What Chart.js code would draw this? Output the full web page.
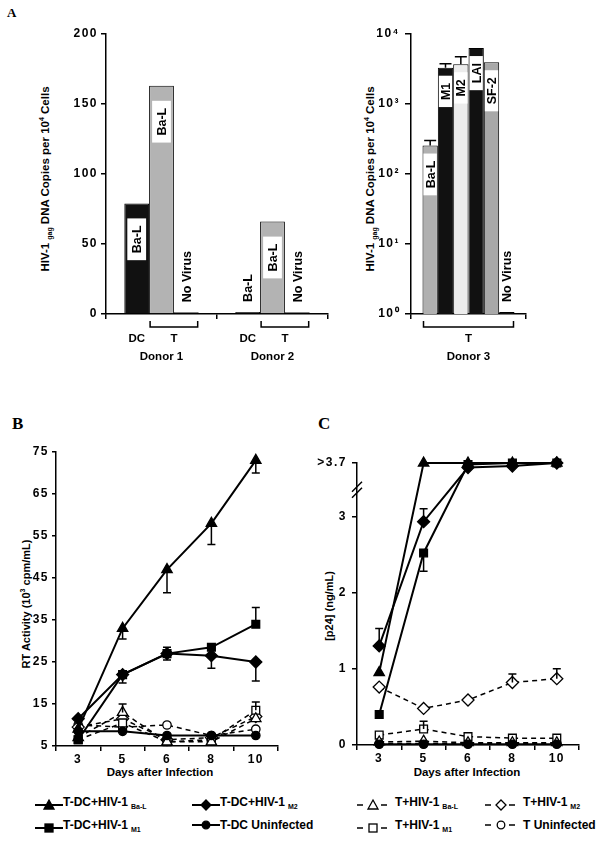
<!DOCTYPE html>
<html>
<head>
<meta charset="utf-8">
<script src="https://cdn.jsdelivr.net/npm/chart.js@4.4.0/dist/chart.umd.min.js"></script>
<style>
  body { margin: 0; background: #fff; width: 603px; height: 848px; position: relative; overflow: hidden;
         font-family: 'Liberation Sans', Arial, sans-serif; font-weight: bold; color: #000; }
  canvas { position: absolute; }
  .panel { position: absolute; font-family: 'Liberation Serif', 'Times New Roman', serif; font-weight: bold; line-height: 1; }
  .ytitle { position: absolute; white-space: nowrap; font-size: 11px; line-height: 1;
            transform: translate(-50%, -50%) rotate(-90deg); }
  .big { font-size: 11.5px; }
  .xtitle { position: absolute; white-space: nowrap; font-size: 11.5px; line-height: 1; transform: translate(-50%, -50%); }
  .sub { font-size: 7px; vertical-align: -3px; margin-left: 3px; }
  .sup { font-size: 7px; vertical-align: 5px; }
  .leg { position: absolute; white-space: nowrap; font-size: 12px; line-height: 14px; display: flex; align-items: center; }
  .leg svg { display: block; }
</style>
</head>
<body>
<div class="panel" style="left:7px; top:6px; font-size:13px;">A</div>
<div class="panel" style="left:12px; top:415px; font-size:17px;">B</div>
<div class="panel" style="left:318px; top:415px; font-size:17px;">C</div>

<div class="ytitle big" style="left:45px; top:179px;">HIV-1<span class="sub">gag</span> DNA Copies per 10<span class="sup">4</span> Cells</div>
<div class="ytitle big" style="left:370px; top:179px;">HIV-1<span class="sub">gag</span> DNA Copies per 10<span class="sup">4</span> Cells</div>
<div class="ytitle" style="left:25px; top:604px;">RT Activity (10<span class="sup">3</span> cpm/mL)</div>
<div class="ytitle" style="left:329px; top:606px;">[p24] (ng/mL)</div>
<div class="xtitle" style="left:160px; top:773px;">Days after Infection</div>
<div class="xtitle" style="left:467px; top:773px;">Days after Infection</div>

<canvas id="donors12" width="335" height="350" style="left:0; top:20px;"></canvas>
<canvas id="donor3" width="268" height="350" style="left:335px; top:20px;"></canvas>
<canvas id="rtChart" width="300" height="360" style="left:0; top:430px;"></canvas>
<canvas id="p24Chart" width="303" height="360" style="left:300px; top:430px;"></canvas>
<div id="legend"></div>

<script>
// ---- panel A, donors 1 and 2 (linear) ----
const donorsA = ['Donor 1', 'Donor 2'];
const dcBaL = [79, 1.5];
const tBaL = [163, 66];
const tNoVirus = [1.3, 1.3];

// ---- panel A, donor 3 (log) ----
const strains = ['Ba-L', 'M1', 'M2', 'LAI', 'SF-2', 'No Virus'];
const donor3Copies = [255, 3300, 3700, 6300, 3950, 1.07];
const donor3ErrTop = [300, 3750, 4750, null, null, null];

// ---- panels B and C ----
const days = ['3', '5', '6', '8', '10'];

const rtDcBaL = [9, 33, 47, 58, 73];
const rtDcM1 = [6.5, 22, 27, 28.5, 34];
const rtDcM2 = [11.5, 22, 27, 26.5, 25];
const rtDcNone = [8.5, 8.5, 7.5, 7.5, 7.5];
const rtTBaL = [7, 13, 6, 6, 11.5];
const rtTM1 = [6.5, 10.5, 6, 6.5, 13.5];
const rtTM2 = [9.5, 11.5, 6.5, 7, 12];
const rtTNone = [10, 9.5, 10, 7.5, 9];
// whisker ends (one sided)
const rtErrDcBaL = [null, 30.5, 41.5, 53, 70];
const rtErrDcM1 = [null, 20, 28.5, null, 38];
const rtErrDcM2 = [null, null, 25.5, 23.5, 20.5];
const rtErrTBaL = [null, 15, null, null, null];
const rtErrTM1 = [null, null, null, null, 15.5];

const pDcBaL = [0.95, 3.7, 3.7, 3.7, 3.7];
const pDcM1 = [0.4, 2.52, 3.68, 3.7, 3.7];
const pDcM2 = [1.3, 2.93, 3.64, 3.66, 3.7];
const pDcNone = [0.01, 0.01, 0.01, 0.01, 0.01];
const pTBaL = [0.04, 0.05, 0.03, 0.03, 0.03];
const pTM1 = [0.13, 0.21, 0.11, 0.09, 0.09];
const pTM2 = [0.76, 0.48, 0.59, 0.82, 0.87];
const pTNone = [0.02, 0.02, 0.02, 0.02, 0.02];
const pErrDcM1 = [null, 2.28, null, null, null];
const pErrDcM2 = [1.53, 3.1, null, null, null];
const pErrTM1 = [null, 0.31, null, null, null];
const pErrTM2 = [null, null, null, 0.93, 1.0];

const p24Ticks = [0, 1, 2, 3, 3.7];

const seriesNames = ['T-DC+HIV-1', 'T-DC+HIV-1', 'T-DC+HIV-1', 'T-DC Uninfected',
                     'T+HIV-1', 'T+HIV-1', 'T+HIV-1', 'T Uninfected'];
const seriesSubs = ['Ba-L', 'M1', 'M2', '', 'Ba-L', 'M1', 'M2', ''];

// styles
const shapes = ['triangle', 'rect', 'rectRot', 'circle', 'triangle', 'rect', 'rectRot', 'circle'];
const radii = [6, 5.5, 6, 4.2, 6, 5.5, 6, 4.2];
const strainFill = ['#b0b0b0', '#111', '#ececec', '#111', '#a8a8a8', '#111'];

const FONT = "'Liberation Sans', Arial, sans-serif";
Chart.defaults.font.family = FONT;
Chart.defaults.font.weight = 'bold';
Chart.defaults.font.size = 12;
Chart.defaults.color = '#000';
Chart.defaults.animation = false;
Chart.defaults.plugins.legend.display = false;
Chart.defaults.plugins.tooltip.enabled = false;

const spacedTicks = {
    id: 'spacedTicks',
    beforeDraw(chart) { chart.ctx.letterSpacing = '1.5px'; },
    beforeDatasetsDraw(chart) { chart.ctx.letterSpacing = '0px'; },
};

const errorBars = {
    id: 'errorBars',
    afterDatasetsDraw(chart, args, opts) {
        const ctx = chart.ctx;
        const y = chart.scales.y;
        ctx.save();
        ctx.strokeStyle = '#000';
        ctx.lineWidth = 1.5;
        chart.data.datasets.forEach((ds, i) => {
            if (!ds.errTo) return;
            chart.getDatasetMeta(i).data.forEach((el, j) => {
                const v = ds.errTo[j];
                if (v == null) return;
                const y1 = y.getPixelForValue(v);
                ctx.beginPath();
                ctx.moveTo(el.x, el.y);
                ctx.lineTo(el.x, y1);
                ctx.moveTo(el.x - opts.cap / 2, y1);
                ctx.lineTo(el.x + opts.cap / 2, y1);
                ctx.stroke();
            });
        });
        ctx.restore();
    },
};

const barTags = {
    id: 'barTags',
    afterDatasetsDraw(chart, args, opts) {
        const ctx = chart.ctx;
        ctx.save();
        ctx.font = 'bold 12.5px ' + FONT;
        chart.data.datasets.forEach((ds, i) => {
            chart.getDatasetMeta(i).data.forEach((bar, j) => {
                const text = ds.tags[j];
                const tw = ctx.measureText(text).width;
                const h = bar.base - bar.y;
                ctx.save();
                ctx.translate(bar.x, 0);
                if (h > tw + 30) {
                    const top = bar.y + opts.gap;
                    const bw = bar.width - opts.inset * 2;
                    const bh = tw + 14;
                    ctx.fillStyle = '#fff';
                    ctx.fillRect(-bw / 2, top, bw, bh);
                    ctx.translate(0, top + bh / 2);
                    ctx.rotate(-Math.PI / 2);
                    ctx.fillStyle = '#000';
                    ctx.textAlign = 'center';
                    ctx.textBaseline = 'middle';
                    ctx.fillText(text, 0, 1);
                } else {
                    ctx.translate(0, bar.y - opts.lift);
                    ctx.rotate(-Math.PI / 2);
                    ctx.fillStyle = '#000';
                    ctx.textAlign = 'left';
                    ctx.textBaseline = 'middle';
                    ctx.fillText(text, 0, 1);
                }
                ctx.restore();
            });
        });
        ctx.restore();
    },
};

const groupLabels = {
    id: 'groupLabels',
    afterDraw(chart, args, opts) {
        const ctx = chart.ctx;
        const xs = chart.scales.x;
        const base = xs.top;
        ctx.save();
        ctx.font = 'bold 11.5px ' + FONT;
        ctx.textAlign = 'center';
        ctx.textBaseline = 'middle';
        ctx.strokeStyle = '#000';
        ctx.lineWidth = 1.5;
        chart.data.labels.forEach((lab, j) => {
            if (opts.single != null) {
                const b = chart.getDatasetMeta(opts.single).data[j];
                ctx.fillText(opts.singleText, b.x, base + 25);
            }
            const b0 = chart.getDatasetMeta(opts.from).data[j];
            const b1 = chart.getDatasetMeta(opts.to).data[j];
            const x0 = b0.x - b0.width / 2 + 1;
            const x1 = b1.x + b1.width / 2 - 1;
            ctx.beginPath();
            ctx.moveTo(x0, base + 7);
            ctx.lineTo(x0, base + 13);
            ctx.lineTo(x1, base + 13);
            ctx.lineTo(x1, base + 7);
            ctx.stroke();
            ctx.fillText('T', (x0 + x1) / 2, base + 25);
            ctx.fillText(lab, xs.getPixelForValue(j), base + 43);
        });
        ctx.restore();
    },
};

const axisBreak = {
    id: 'axisBreak',
    afterDraw(chart, args, opts) {
        const ctx = chart.ctx;
        const x = chart.scales.x.left;
        const y = chart.scales.y.getPixelForValue(opts.at);
        ctx.save();
        ctx.strokeStyle = '#000';
        ctx.lineWidth = 1.5;
        ctx.beginPath();
        [-3, 3].forEach((d) => {
            ctx.moveTo(x - 5, y + d + 5);
            ctx.lineTo(x + 5, y + d - 5);
        });
        ctx.stroke();
        ctx.restore();
    },
};

const axisLine = { color: '#000', width: 1.5 };

function barX(width) {
    return {
        type: 'category',
        offset: true,
        grid: { offset: true, drawOnChartArea: false, tickLength: 5, color: '#000', lineWidth: 1.5 },
        border: axisLine,
        ticks: { display: false },
        afterFit: (s) => { s.height = width; },
    };
}

// ---- panel A left ----
new Chart(document.getElementById('donors12'), {
    type: 'bar',
    data: {
        labels: donorsA,
        datasets: [
            { data: dcBaL, tags: ['Ba-L', 'Ba-L'], backgroundColor: '#111', borderColor: '#000', borderWidth: 1 },
            { data: tBaL, tags: ['Ba-L', 'Ba-L'], backgroundColor: '#b3b3b3', borderColor: '#000', borderWidth: 1 },
            { data: tNoVirus, tags: ['No Virus', 'No Virus'], backgroundColor: '#111', borderColor: '#000', borderWidth: 1 },
        ],
    },
    options: {
        responsive: false,
        layout: { padding: { top: 14, right: 7, left: 0, bottom: 0 } },
        datasets: { bar: { barPercentage: 1, categoryPercentage: 0.67 } },
        scales: {
            x: barX(56),
            y: {
                min: 0, max: 200,
                ticks: { stepSize: 50, padding: 3 },
                grid: { drawOnChartArea: false, tickLength: 5, color: '#000', lineWidth: 1.5 },
                border: axisLine,
                afterFit: (s) => { s.width = 106; },
            },
        },
        plugins: {
            barTags: { gap: 15, inset: 3, lift: 10 },
            groupLabels: { single: 0, singleText: 'DC', from: 1, to: 2 },
        },
    },
    plugins: [spacedTicks, barTags, groupLabels],
});

// ---- panel A right ----
new Chart(document.getElementById('donor3'), {
    type: 'bar',
    data: {
        labels: ['Donor 3'],
        datasets: strains.map((s, i) => ({
            label: s,
            data: [donor3Copies[i]],
            errTo: [donor3ErrTop[i]],
            tags: [s],
            backgroundColor: strainFill[i],
            borderColor: '#000',
            borderWidth: 1,
        })),
    },
    options: {
        responsive: false,
        layout: { padding: { top: 14, right: 77, left: 0, bottom: 0 } },
        datasets: { bar: { barPercentage: 1, categoryPercentage: 0.8 } },
        scales: {
            x: barX(56),
            y: {
                type: 'logarithmic',
                min: 1, max: 10000,
                afterBuildTicks: (s) => { s.ticks = [1, 10, 100, 1000, 10000].map((v) => ({ value: v })); },
                ticks: {
                    padding: 5,
                    callback: (v) => '10' + '⁰¹²³⁴'[Math.round(Math.log10(v))],
                },
                grid: { drawOnChartArea: false, tickLength: 6, color: '#000', lineWidth: 1.5 },
                border: axisLine,
                afterFit: (s) => { s.width = 76; },
            },
        },
        plugins: {
            barTags: { gap: 8, inset: 1, lift: 10 },
            groupLabels: { from: 0, to: 5 },
            errorBars: { cap: 12 },
        },
    },
    plugins: [spacedTicks, errorBars, barTags, groupLabels],
});

// ---- panels B and C ----
function lineSets(values, errs) {
    return values.map((v, i) => {
        const dashed = i >= 4;
        const filled = i < 4;
        return {
            data: v,
            errTo: errs[i],
            borderColor: '#000',
            borderWidth: dashed ? 1.5 : 2,
            borderDash: dashed ? [5, 4] : [],
            pointStyle: shapes[i],
            pointRadius: radii[i],
            pointBackgroundColor: filled ? '#000' : '#fff',
            pointBorderColor: '#000',
            pointBorderWidth: 1.3,
            tension: 0,
            clip: false,
        };
    });
}

function lineX(h) {
    return {
        type: 'category',
        offset: true,
        grid: { offset: true, drawOnChartArea: false, tickLength: 5, color: '#000', lineWidth: 1.5 },
        border: axisLine,
        ticks: { padding: 1, maxRotation: 0 },
        afterFit: (s) => { s.height = h; },
    };
}

new Chart(document.getElementById('rtChart'), {
    type: 'line',
    data: {
        labels: days,
        datasets: lineSets(
            [rtDcBaL, rtDcM1, rtDcM2, rtDcNone, rtTBaL, rtTM1, rtTM2, rtTNone],
            [rtErrDcBaL, rtErrDcM1, rtErrDcM2, null, rtErrTBaL, rtErrTM1, null, null]
        ),
    },
    options: {
        responsive: false,
        layout: { padding: { top: 22, right: 22, left: 0, bottom: 0 } },
        scales: {
            x: lineX(44),
            y: {
                min: 5, max: 75,
                ticks: { stepSize: 10, padding: 3 },
                grid: { drawOnChartArea: false, tickLength: 4, color: '#000', lineWidth: 1.5 },
                border: axisLine,
                afterFit: (s) => { s.width = 56; },
            },
        },
        plugins: { errorBars: { cap: 8 } },
    },
    plugins: [spacedTicks, errorBars],
});

new Chart(document.getElementById('p24Chart'), {
    type: 'line',
    data: {
        labels: days,
        datasets: lineSets(
            [pDcBaL, pDcM1, pDcM2, pDcNone, pTBaL, pTM1, pTM2, pTNone],
            [null, pErrDcM1, pErrDcM2, null, null, pErrTM1, pErrTM2, null]
        ),
    },
    options: {
        responsive: false,
        layout: { padding: { top: 33, right: 24, left: 0, bottom: 0 } },
        scales: {
            x: lineX(45),
            y: {
                min: 0, max: 3.7,
                afterBuildTicks: (s) => { s.ticks = p24Ticks.map((v) => ({ value: v })); },
                ticks: { padding: 5, callback: (v) => (v === 3.7 ? '>3.7' : v) },
                grid: { drawOnChartArea: false, tickLength: 5, color: '#000', lineWidth: 1.5 },
                border: axisLine,
                afterFit: (s) => { s.width = 57; },
            },
        },
        plugins: { errorBars: { cap: 8 }, axisBreak: { at: 3.35 } },
    },
    plugins: [spacedTicks, errorBars, axisBreak],
});

// ---- legend ----
const legendCols = [35, 192, 357, 485];
const legendRows = [802, 825];
const legendSlot = [[0, 0], [0, 1], [1, 0], [1, 1], [2, 0], [2, 1], [3, 0], [3, 1]];

function markerSvg(shape, cx, cy, filled) {
    const fill = filled ? '#000' : '#fff';
    const st = `fill="${fill}" stroke="#000" stroke-width="1.3"`;
    if (shape === 'triangle') return `<polygon points="${cx},${cy - 5} ${cx + 5},${cy + 4} ${cx - 5},${cy + 4}" ${st}/>`;
    if (shape === 'rectRot') return `<polygon points="${cx},${cy - 5} ${cx + 5},${cy} ${cx},${cy + 5} ${cx - 5},${cy}" ${st}/>`;
    if (shape === 'rect') return `<rect x="${cx - 4}" y="${cy - 4}" width="8" height="8" ${st}/>`;
    return `<circle cx="${cx}" cy="${cy}" r="3.8" ${st}/>`;
}

const legend = document.getElementById('legend');
seriesNames.forEach((name, i) => {
    const [c, r] = legendSlot[i];
    const solid = i < 4;
    const item = document.createElement('div');
    item.className = 'leg';
    item.style.left = legendCols[c] + 'px';
    item.style.top = (legendRows[r] - 7) + 'px';
    let svg;
    if (solid) {
        svg = `<svg width="28" height="14"><line x1="0" y1="7" x2="28" y2="7" stroke="#000" stroke-width="2"/>${markerSvg(shapes[i], 14, 7, true)}</svg>`;
    } else {
        svg = `<svg width="38" height="14"><line x1="0" y1="7" x2="6" y2="7" stroke="#000" stroke-width="1.5"/><line x1="24" y1="7" x2="30" y2="7" stroke="#000" stroke-width="1.5"/>${markerSvg(shapes[i], 16, 7, false)}</svg>`;
    }
    const sub = seriesSubs[i] ? `<span class="sub">${seriesSubs[i]}</span>` : '';
    item.innerHTML = svg + `<span>${name}${sub}</span>`;
    legend.appendChild(item);
});
</script>
</body>
</html>
